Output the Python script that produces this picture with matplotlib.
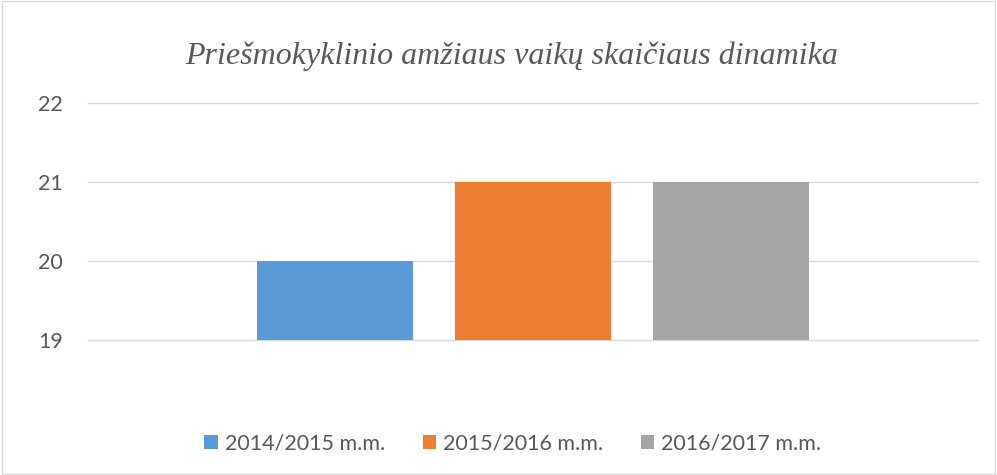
import matplotlib.pyplot as plt
from matplotlib.patches import Rectangle

title = "Priešmokyklinio amžiaus vaikų skaičiaus dinamika"
series = ["2014/2015 m.m.", "2015/2016 m.m.", "2016/2017 m.m."]
values = [20, 21, 21]
colors = ["#5B9BD5", "#ED7D31", "#A5A5A5"]
yticks = [19, 20, 21, 22]

fig = plt.figure(figsize=(9.97, 4.75), dpi=100)
fig.patches.append(Rectangle((0.002, 0.002), 0.996, 0.996, transform=fig.transFigure,
                             fill=False, edgecolor="#D9D9D9", linewidth=1))

ax = fig.add_axes([0.0883, 0.2842, 0.8927, 0.499])
offset = 0.2225
width = 0.1753
for i, (s, v, c) in enumerate(zip(series, values, colors)):
    ax.bar((i - 1) * offset, v - 19, bottom=19, width=width, color=c, label=s, zorder=3)

ax.set_xlim(-0.5, 0.5)
ax.set_ylim(19, 22)
ax.set_yticks(yticks)
ax.set_xticks([])
for y in yticks:
    ax.axhline(y, color="#D9D9D9", linewidth=1, zorder=0, clip_on=False)
for sp in ax.spines.values():
    sp.set_visible(False)
ax.tick_params(axis="y", length=0, labelsize=15.5, labelcolor="#595959", pad=18)
for lab in ax.get_yticklabels():
    lab.set_family("Lato")

fig.text(0.513, 0.882, title, ha="center", va="center", fontsize=23, color="#595959",
         family="Liberation Serif", style="italic")

fig.legend(loc="center", bbox_to_anchor=(0.5145, 0.067), ncol=3, frameon=False,
           prop={"family": "Lato", "size": 15.5}, labelcolor="#595959",
           handlelength=0.62, handleheight=0.62, columnspacing=1.75, handletextpad=0.33)

fig.savefig("out.png", dpi=100)
